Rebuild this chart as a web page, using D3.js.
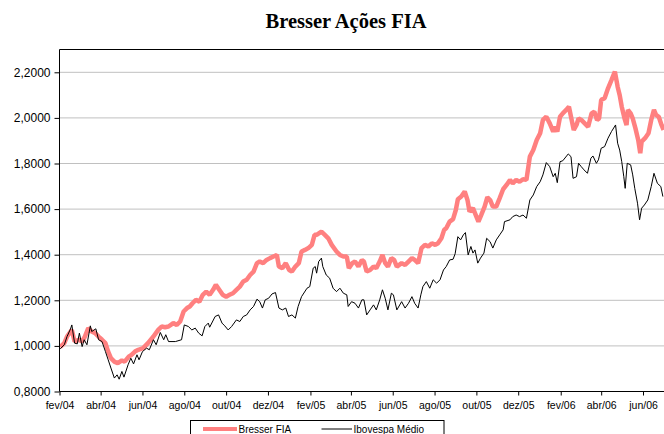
<!DOCTYPE html>
<html><head><meta charset="utf-8">
<script src="https://cdn.jsdelivr.net/npm/d3@7"></script>
<style>body{margin:0;background:#fff}svg{display:block}</style>
</head><body>
<svg id="c" width="664" height="434"></svg>
<script>
const title = "Bresser Ações FIA";
const seriesNames = ["Bresser FIA", "Ibovespa Médio"];
const tickDates = ["2004-02-01","2004-04-01","2004-06-01","2004-08-01","2004-10-01","2004-12-01","2005-02-01","2005-04-01","2005-06-01","2005-08-01","2005-10-01","2005-12-01","2006-02-01","2006-04-01","2006-06-01"];
const tickLabels = ["fev/04","abr/04","jun/04","ago/04","out/04","dez/04","fev/05","abr/05","jun/05","ago/05","out/05","dez/05","fev/06","abr/06","jun/06"];
const yTicks = [0.8, 1.0, 1.2, 1.4, 1.6, 1.8, 2.0, 2.2];

const bresserDates = ["2004-02-02","2004-02-08","2004-02-12","2004-02-19","2004-02-23","2004-02-29","2004-03-05","2004-03-09","2004-03-14","2004-03-19","2004-03-24","2004-03-29","2004-04-03","2004-04-08","2004-04-12","2004-04-16","2004-04-21","2004-04-26","2004-05-02","2004-05-06","2004-05-12","2004-05-16","2004-05-21","2004-05-26","2004-06-02","2004-06-09","2004-06-17","2004-06-24","2004-06-29","2004-07-04","2004-07-09","2004-07-16","2004-07-21","2004-07-26","2004-07-31","2004-08-05","2004-08-09","2004-08-13","2004-08-18","2004-08-23","2004-08-28","2004-09-02","2004-09-07","2004-09-12","2004-09-16","2004-09-21","2004-09-26","2004-10-01","2004-10-06","2004-10-11","2004-10-16","2004-10-21","2004-10-26","2004-10-31","2004-11-05","2004-11-10","2004-11-15","2004-11-19","2004-11-24","2004-11-29","2004-12-04","2004-12-09","2004-12-14","2004-12-17","2004-12-22","2004-12-27","2005-01-01","2005-01-05","2005-01-10","2005-01-15","2005-01-19","2005-01-24","2005-01-29","2005-02-03","2005-02-07","2005-02-10","2005-02-17","2005-02-22","2005-02-27","2005-03-04","2005-03-11","2005-03-16","2005-03-21","2005-03-26","2005-03-29","2005-04-03","2005-04-07","2005-04-12","2005-04-17","2005-04-20","2005-04-24","2005-04-29","2005-05-04","2005-05-08","2005-05-13","2005-05-17","2005-05-21","2005-05-25","2005-05-30","2005-06-03","2005-06-07","2005-06-14","2005-06-19","2005-06-24","2005-06-29","2005-07-03","2005-07-08","2005-07-13","2005-07-18","2005-07-23","2005-07-28","2005-08-02","2005-08-06","2005-08-11","2005-08-15","2005-08-18","2005-08-23","2005-08-28","2005-09-01","2005-09-04","2005-09-09","2005-09-14","2005-09-18","2005-09-21","2005-09-26","2005-10-01","2005-10-04","2005-10-08","2005-10-13","2005-10-17","2005-10-21","2005-10-25","2005-10-30","2005-11-04","2005-11-09","2005-11-14","2005-11-19","2005-11-23","2005-11-28","2005-12-03","2005-12-08","2005-12-13","2005-12-18","2005-12-23","2005-12-28","2006-01-02","2006-01-06","2006-01-11","2006-01-16","2006-01-21","2006-01-24","2006-01-27","2006-01-31","2006-02-04","2006-02-09","2006-02-13","2006-02-16","2006-02-20","2006-02-24","2006-02-27","2006-03-03","2006-03-08","2006-03-13","2006-03-18","2006-03-22","2006-03-26","2006-03-29","2006-04-01","2006-04-06","2006-04-11","2006-04-16","2006-04-21","2006-04-25","2006-04-28","2006-05-01","2006-05-05","2006-05-08","2006-05-10","2006-05-14","2006-05-17","2006-05-21","2006-05-25","2006-05-28","2006-05-30","2006-06-04","2006-06-09","2006-06-13","2006-06-17","2006-06-20","2006-06-24","2006-06-28","2006-07-01"];
const bresserValues = [0.995,1.012,1.041,1.070,1.019,1.027,1.019,1.041,1.078,1.063,1.056,1.041,1.027,1.012,0.975,0.946,0.931,0.924,0.936,0.931,0.953,0.961,0.975,0.983,0.990,1.012,1.041,1.070,1.085,1.082,1.085,1.100,1.092,1.107,1.151,1.166,1.173,1.187,1.202,1.194,1.224,1.238,1.224,1.246,1.268,1.246,1.224,1.216,1.224,1.231,1.246,1.260,1.282,1.290,1.311,1.326,1.363,1.370,1.363,1.377,1.385,1.392,1.399,1.348,1.341,1.363,1.333,1.326,1.348,1.363,1.414,1.421,1.429,1.443,1.487,1.487,1.501,1.487,1.472,1.443,1.414,1.399,1.392,1.392,1.341,1.363,1.370,1.348,1.377,1.370,1.326,1.333,1.348,1.341,1.370,1.399,1.363,1.348,1.385,1.377,1.348,1.363,1.355,1.370,1.385,1.377,1.363,1.429,1.443,1.436,1.450,1.443,1.450,1.472,1.509,1.516,1.545,1.556,1.596,1.643,1.655,1.677,1.640,1.589,1.604,1.567,1.545,1.574,1.611,1.652,1.640,1.611,1.611,1.648,1.687,1.706,1.728,1.713,1.728,1.720,1.731,1.728,1.830,1.859,1.903,1.933,1.991,2.005,1.976,1.940,1.961,1.940,2.005,2.020,2.035,2.049,2.005,1.947,1.969,1.998,1.991,1.976,1.961,2.020,2.027,1.991,1.998,2.079,2.086,2.130,2.166,2.203,2.137,2.100,2.049,1.998,1.969,2.035,2.020,1.998,1.954,1.903,1.845,1.896,1.911,1.933,1.991,2.035,2.013,2.005,1.969,1.947];

const ibovDates = ["2004-02-02","2004-02-08","2004-02-12","2004-02-17","2004-02-19","2004-02-23","2004-02-27","2004-03-01","2004-03-05","2004-03-08","2004-03-12","2004-03-17","2004-03-19","2004-03-25","2004-03-29","2004-04-03","2004-04-08","2004-04-12","2004-04-16","2004-04-21","2004-04-25","2004-04-28","2004-05-02","2004-05-05","2004-05-11","2004-05-15","2004-05-19","2004-05-24","2004-05-27","2004-06-01","2004-06-07","2004-06-11","2004-06-17","2004-06-21","2004-06-27","2004-07-02","2004-07-05","2004-07-09","2004-07-19","2004-07-28","2004-08-01","2004-08-07","2004-08-12","2004-08-17","2004-08-22","2004-08-27","2004-08-31","2004-09-05","2004-09-07","2004-09-15","2004-09-20","2004-09-25","2004-09-29","2004-10-04","2004-10-09","2004-10-16","2004-10-21","2004-10-26","2004-10-31","2004-11-05","2004-11-10","2004-11-15","2004-11-19","2004-11-23","2004-11-27","2004-12-02","2004-12-07","2004-12-12","2004-12-17","2004-12-22","2004-12-27","2004-12-31","2005-01-05","2005-01-10","2005-01-14","2005-01-19","2005-01-27","2005-01-31","2005-02-05","2005-02-08","2005-02-10","2005-02-13","2005-02-17","2005-02-19","2005-02-24","2005-03-01","2005-03-06","2005-03-11","2005-03-16","2005-03-21","2005-03-26","2005-03-28","2005-04-02","2005-04-07","2005-04-12","2005-04-17","2005-04-20","2005-04-24","2005-04-29","2005-05-04","2005-05-08","2005-05-13","2005-05-17","2005-05-21","2005-05-25","2005-05-30","2005-06-02","2005-06-07","2005-06-14","2005-06-19","2005-06-24","2005-06-29","2005-07-03","2005-07-08","2005-07-12","2005-07-15","2005-07-20","2005-07-25","2005-07-30","2005-08-04","2005-08-09","2005-08-14","2005-08-18","2005-08-23","2005-08-28","2005-08-31","2005-09-04","2005-09-08","2005-09-12","2005-09-15","2005-09-19","2005-09-23","2005-09-26","2005-09-29","2005-10-03","2005-10-07","2005-10-12","2005-10-16","2005-10-21","2005-10-25","2005-10-30","2005-11-04","2005-11-09","2005-11-11","2005-11-19","2005-11-23","2005-11-28","2005-12-03","2005-12-08","2005-12-13","2005-12-18","2005-12-23","2005-12-28","2006-01-02","2006-01-06","2006-01-11","2006-01-16","2006-01-21","2006-01-24","2006-01-27","2006-01-31","2006-02-04","2006-02-12","2006-02-16","2006-02-19","2006-02-24","2006-02-27","2006-03-03","2006-03-07","2006-03-12","2006-03-17","2006-03-20","2006-03-25","2006-03-28","2006-04-01","2006-04-06","2006-04-11","2006-04-16","2006-04-22","2006-04-25","2006-04-28","2006-05-01","2006-05-04","2006-05-06","2006-05-09","2006-05-14","2006-05-17","2006-05-20","2006-05-24","2006-05-27","2006-05-30","2006-06-03","2006-06-08","2006-06-13","2006-06-17","2006-06-22","2006-06-27","2006-06-30"];
const ibovValues = [0.987,1.005,1.041,1.074,1.092,1.012,1.009,1.056,0.997,1.027,1.005,1.088,1.063,1.075,1.027,1.019,0.975,0.939,0.903,0.859,0.873,0.854,0.888,0.863,0.917,0.946,0.921,0.961,0.939,0.975,0.990,0.983,1.027,1.005,1.059,1.027,1.049,1.019,1.019,1.027,1.092,1.085,1.070,1.078,1.056,1.044,1.085,1.100,1.082,1.129,1.136,1.100,1.088,1.070,1.085,1.114,1.107,1.129,1.136,1.158,1.173,1.205,1.194,1.166,1.202,1.209,1.228,1.234,1.166,1.158,1.166,1.129,1.136,1.122,1.173,1.216,1.253,1.260,1.341,1.348,1.319,1.370,1.385,1.348,1.311,1.297,1.253,1.238,1.253,1.231,1.224,1.173,1.194,1.187,1.166,1.202,1.202,1.136,1.158,1.180,1.158,1.202,1.246,1.209,1.158,1.231,1.224,1.158,1.194,1.166,1.187,1.216,1.187,1.166,1.224,1.260,1.282,1.253,1.290,1.275,1.290,1.333,1.348,1.377,1.380,1.404,1.479,1.465,1.487,1.497,1.399,1.436,1.407,1.421,1.363,1.385,1.407,1.472,1.457,1.429,1.465,1.487,1.509,1.545,1.553,1.567,1.574,1.567,1.574,1.560,1.640,1.662,1.699,1.720,1.750,1.804,1.786,1.742,1.757,1.716,1.808,1.812,1.842,1.830,1.735,1.742,1.801,1.786,1.772,1.757,1.823,1.833,1.801,1.816,1.867,1.874,1.911,1.940,1.969,1.889,1.859,1.808,1.742,1.691,1.801,1.794,1.750,1.691,1.626,1.553,1.604,1.618,1.640,1.699,1.757,1.713,1.699,1.655];

const parse = d3.timeParse("%Y-%m-%d");
const svg = d3.select("#c");
const W = 664;
const plotLeft = 59.5, plotTop = 49.5, plotBottom = 391.5;

const x = d3.scaleTime()
  .domain([parse("2004-02-01"), parse("2006-06-01")])
  .range([59.5, 643]);
const y = d3.scaleLinear().domain([0.8, 2.3]).range([plotBottom, plotTop]);

const fmtLocale = d3.formatLocale({decimal: ",", thousands: ".", grouping: [3], currency: ["R$", ""]});
const yFmt = fmtLocale.format(".4f");

// title
svg.append("text").attr("x", 346).attr("y", 27.5).attr("text-anchor", "middle")
  .attr("font-family", "'Liberation Serif','Times New Roman',serif")
  .attr("font-weight", "bold").attr("font-size", 20.5).attr("fill", "#000").text(title);

// gridlines
svg.append("g").selectAll("line").data(yTicks.filter(v => v > 0.8)).join("line")
  .attr("x1", plotLeft).attr("x2", W).attr("y1", d => y(d)).attr("y2", d => y(d))
  .attr("stroke", "#c0c0c0").attr("stroke-width", 1);

// frame top
svg.append("line").attr("x1", plotLeft).attr("x2", W).attr("y1", plotTop).attr("y2", plotTop)
  .attr("stroke", "#000").attr("stroke-width", 1);

// clip
svg.append("defs").append("clipPath").attr("id", "pc").append("rect")
  .attr("x", plotLeft).attr("y", plotTop).attr("width", W - plotLeft).attr("height", plotBottom - plotTop);

const line = d3.line().x(d => x(d[0])).y(d => y(d[1]));
const bData = bresserDates.map((d, i) => [parse(d), bresserValues[i]]);
const iData = ibovDates.map((d, i) => [parse(d), ibovValues[i]]);

const g = svg.append("g").attr("clip-path", "url(#pc)");
g.append("path").datum(bData).attr("d", line).attr("fill", "none")
  .attr("stroke", "#ff8080").attr("stroke-width", 4.5).attr("stroke-linejoin", "bevel");
g.append("path").datum(iData).attr("d", line).attr("fill", "none")
  .attr("stroke", "#000").attr("stroke-width", 1);

// y axis
const ya = svg.append("g").attr("transform", `translate(${plotLeft},0)`)
  .call(d3.axisLeft(y).tickValues(yTicks).tickSize(5).tickPadding(4).tickFormat(yFmt));
ya.select(".domain").attr("d", `M0,${plotTop}V${plotBottom}`).attr("stroke", "#000");
ya.selectAll("text").attr("font-family", "'Liberation Sans',Arial,sans-serif").attr("font-size", 12).attr("fill", "#000");
ya.selectAll(".tick line").attr("stroke", "#000");

// x axis
const xa = svg.append("g").attr("transform", `translate(0,${plotBottom})`)
  .call(d3.axisBottom(x).tickValues(tickDates.map(parse)).tickSize(4).tickPadding(6)
    .tickFormat((d, i) => tickLabels[i]));
xa.select(".domain").attr("d", `M${plotLeft},0H${W}`).attr("stroke", "#000");
xa.selectAll("text").attr("font-family", "'Liberation Sans',Arial,sans-serif").attr("font-size", 10.5).attr("fill", "#000");
xa.selectAll(".tick line").attr("stroke", "#000");

// legend
const lg = svg.append("g");
lg.append("rect").attr("x", 190.5).attr("y", 420.5).attr("width", 253.5).attr("height", 30)
  .attr("fill", "#fff").attr("stroke", "#000").attr("stroke-width", 1);
lg.append("line").attr("x1", 203).attr("x2", 237).attr("y1", 429).attr("y2", 429)
  .attr("stroke", "#ff8080").attr("stroke-width", 4);
lg.append("text").attr("x", 238.5).attr("y", 433).text(seriesNames[0])
  .attr("font-family", "'Liberation Sans',Arial,sans-serif").attr("font-size", 10).attr("fill", "#000");
lg.append("line").attr("x1", 321.5).attr("x2", 352).attr("y1", 429).attr("y2", 429)
  .attr("stroke", "#000").attr("stroke-width", 1);
lg.append("text").attr("x", 353.5).attr("y", 433).text(seriesNames[1])
  .attr("font-family", "'Liberation Sans',Arial,sans-serif").attr("font-size", 10).attr("fill", "#000");
</script>
</body></html>
